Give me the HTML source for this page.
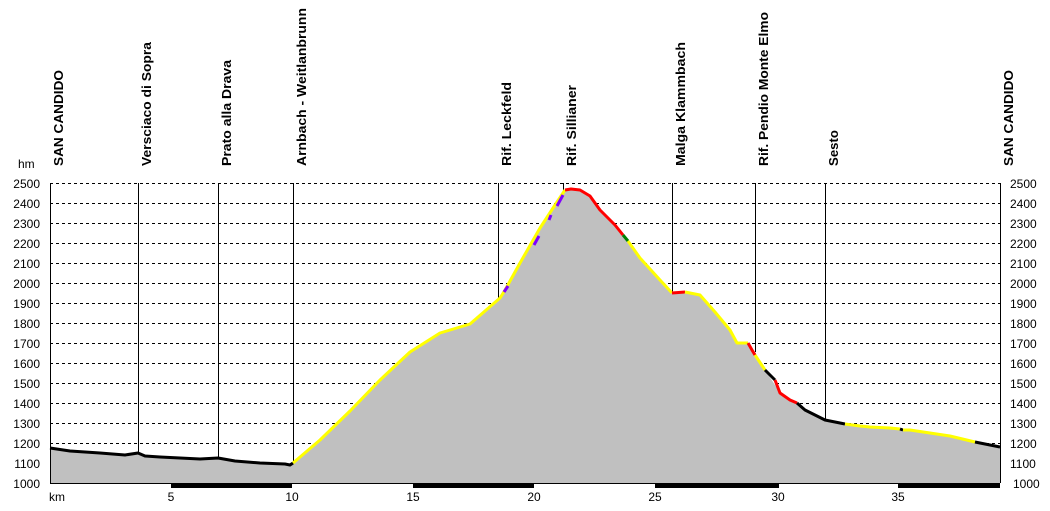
<!DOCTYPE html>
<html><head><meta charset="utf-8"><style>
html,body{margin:0;padding:0;background:#fff;}
svg{display:block;font-family:"Liberation Sans",sans-serif;}
</style></head><body>
<svg width="1050" height="511" viewBox="0 0 1050 511">
<rect width="1050" height="511" fill="#fff"/>
<!-- grid -->
<g stroke="#000" stroke-width="1" stroke-dasharray="3,3">
<line x1="50" y1="183.5" x2="1000" y2="183.5"/><line x1="50" y1="203.5" x2="1000" y2="203.5"/>
<line x1="50" y1="223.5" x2="1000" y2="223.5"/><line x1="50" y1="243.5" x2="1000" y2="243.5"/>
<line x1="50" y1="263.5" x2="1000" y2="263.5"/><line x1="50" y1="283.5" x2="1000" y2="283.5"/>
<line x1="50" y1="303.5" x2="1000" y2="303.5"/><line x1="50" y1="323.5" x2="1000" y2="323.5"/>
<line x1="50" y1="343.5" x2="1000" y2="343.5"/><line x1="50" y1="363.5" x2="1000" y2="363.5"/>
<line x1="50" y1="383.5" x2="1000" y2="383.5"/><line x1="50" y1="403.5" x2="1000" y2="403.5"/>
<line x1="50" y1="423.5" x2="1000" y2="423.5"/><line x1="50" y1="443.5" x2="1000" y2="443.5"/>
<line x1="50" y1="463.5" x2="1000" y2="463.5"/>
</g>
<!-- profile fill -->
<polygon fill="#c0c0c0" points="50,483 50,448 70,451 100,453 125,455 138,453 145,456 160,457 200,459 218,458 235,461 260,463 285,464 290,465 293,463 320,440 350,411 380,380 410,352 440,333 470,324 500,298 505,290 520,263 540,228 555,205 565,190 571,189 580,190 590,196 600,210 615,225 625,237 640,258 660,280 672,293 685,292 700,295 715,312 730,330 737,343 748,343 755,352 765,370 775,385 780,393 790,400 797,403 805,410 815,415 825,420 845,424 860,426 870,427 890,428 910,430 930,433 950,436 970,441 990,445 1000,447 1000,483"/>
<!-- vertical marker lines -->
<g stroke="#000" stroke-width="1">
<line x1="50.5" y1="183" x2="50.5" y2="483"/>
<line x1="138.5" y1="183" x2="138.5" y2="453"/>
<line x1="218.5" y1="183" x2="218.5" y2="458"/>
<line x1="293.5" y1="183" x2="293.5" y2="463"/>
<line x1="498.5" y1="183" x2="498.5" y2="299"/>
<line x1="563.5" y1="183" x2="563.5" y2="192"/>
<line x1="672.5" y1="183" x2="672.5" y2="293"/>
<line x1="755.5" y1="183" x2="755.5" y2="352"/>
<line x1="825.5" y1="183" x2="825.5" y2="420"/>
<line x1="1000.5" y1="183" x2="1000.5" y2="483"/>
</g>
<!-- profile line segments -->
<g fill="none" stroke-width="3" stroke-linejoin="round">
<polyline stroke="#000" points="50,448 70,451 100,453 125,455 138,453 145,456 160,457 200,459 218,458 235,461 260,463 285,464 290,465 293,463"/>
<polyline stroke="#ffff00" points="293,463 320,440 350,411 380,380 410,352 440,333 470,324 500,298 505,290 520,263 540,228 555,205 565,190"/>
<polyline stroke="#8000ff" points="504,292 508,286"/>
<polyline stroke="#8000ff" points="534,245 539,236"/>
<polyline stroke="#8000ff" points="549,220 551,215"/>
<polyline stroke="#8000ff" points="557,206 563,195"/>
<polyline stroke="#ff0000" points="565,190 571,189 580,190 590,196 600,210 615,225 623,235"/>
<polyline stroke="#008000" points="623,235 628,241"/>
<polyline stroke="#ffff00" points="628,241 640,258 660,280 672,293"/>
<polyline stroke="#ff0000" points="672,293 685,292"/>
<polyline stroke="#ffff00" points="685,292 700,295 715,312 730,330 737,343 748,343"/>
<polyline stroke="#ff0000" points="748,343 752,350 755,355"/>
<polyline stroke="#ffff00" points="755,355 765,370"/>
<polyline stroke="#000" points="765,370 775,380"/>
<polyline stroke="#ff0000" points="775,380 780,393 790,400 797,403"/>
<polyline stroke="#000" points="797,403 805,410 815,415 825,420 845,424"/>
<polyline stroke="#ffff00" points="845,424 860,426 870,427 890,428 900,429"/>
<polyline stroke="#000" points="900,429 903,430"/>
<polyline stroke="#ffff00" points="903,430 910,430 930,433 950,436 975,442"/>
<polyline stroke="#000" points="975,442 990,445 1000,447"/>
</g>
<!-- bottom axis line and km bars -->
<line x1="50" y1="483.5" x2="1000" y2="483.5" stroke="#000"/>
<rect x="50" y="483" width="950" height="5" fill="#fff" stroke="none"/>
<line x1="50" y1="483.5" x2="1000" y2="483.5" stroke="#000"/>
<g fill="#000">
<rect x="171" y="483" width="121" height="5"/>
<rect x="413" y="483" width="121" height="5"/>
<rect x="655" y="483" width="124" height="5"/>
<rect x="898" y="483" width="102" height="5"/>
</g>
<!-- left labels -->
<g font-size="12" fill="#000" text-anchor="end">
<text x="40" y="188">2500</text><text x="40" y="208">2400</text><text x="40" y="228">2300</text>
<text x="40" y="248">2200</text><text x="40" y="268">2100</text><text x="40" y="288">2000</text>
<text x="40" y="308">1900</text><text x="40" y="328">1800</text><text x="40" y="348">1700</text>
<text x="40" y="368">1600</text><text x="40" y="388">1500</text><text x="40" y="408">1400</text>
<text x="40" y="428">1300</text><text x="40" y="448">1200</text><text x="40" y="468">1100</text>
<text x="40" y="488">1000</text>
</g>
<text x="18" y="168" font-size="12">hm</text>
<g font-size="12" fill="#000" text-anchor="start">
<text x="1010" y="188">2500</text><text x="1010" y="208">2400</text><text x="1010" y="228">2300</text>
<text x="1010" y="248">2200</text><text x="1010" y="268">2100</text><text x="1010" y="288">2000</text>
<text x="1010" y="308">1900</text><text x="1010" y="328">1800</text><text x="1010" y="348">1700</text>
<text x="1010" y="368">1600</text><text x="1010" y="388">1500</text><text x="1010" y="408">1400</text>
<text x="1010" y="428">1300</text><text x="1010" y="448">1200</text><text x="1010" y="468">1100</text>
<text x="1013" y="488">1000</text>
</g>
<g font-size="12" fill="#000" text-anchor="middle">
<text x="57" y="501">km</text>
<text x="171" y="501">5</text><text x="292" y="501">10</text><text x="413" y="501">15</text>
<text x="534" y="501">20</text><text x="655" y="501">25</text><text x="778" y="501">30</text>
<text x="898" y="501">35</text>
</g>
<!-- vertical place labels -->
<g font-size="13" font-weight="bold" fill="#000">
<text transform="translate(63,166) rotate(-90)" textLength="96" lengthAdjust="spacingAndGlyphs">SAN CANDIDO</text>
<text transform="translate(151,166) rotate(-90)" textLength="124" lengthAdjust="spacingAndGlyphs">Versciaco di Sopra</text>
<text transform="translate(231,166) rotate(-90)" textLength="106" lengthAdjust="spacingAndGlyphs">Prato alla Drava</text>
<text transform="translate(306,166) rotate(-90)" textLength="158" lengthAdjust="spacingAndGlyphs">Arnbach - Weitlanbrunn</text>
<text transform="translate(511,166) rotate(-90)" textLength="84" lengthAdjust="spacingAndGlyphs">Rif. Leckfeld</text>
<text transform="translate(576,166) rotate(-90)" textLength="81" lengthAdjust="spacingAndGlyphs">Rif. Sillianer</text>
<text transform="translate(685,166) rotate(-90)" textLength="124" lengthAdjust="spacingAndGlyphs">Malga Klammbach</text>
<text transform="translate(768,166) rotate(-90)" textLength="154" lengthAdjust="spacingAndGlyphs">Rif. Pendio Monte Elmo</text>
<text transform="translate(838,166) rotate(-90)" textLength="36" lengthAdjust="spacingAndGlyphs">Sesto</text>
<text transform="translate(1013,166) rotate(-90)" textLength="96" lengthAdjust="spacingAndGlyphs">SAN CANDIDO</text>
</g>
</svg>
</body></html>
